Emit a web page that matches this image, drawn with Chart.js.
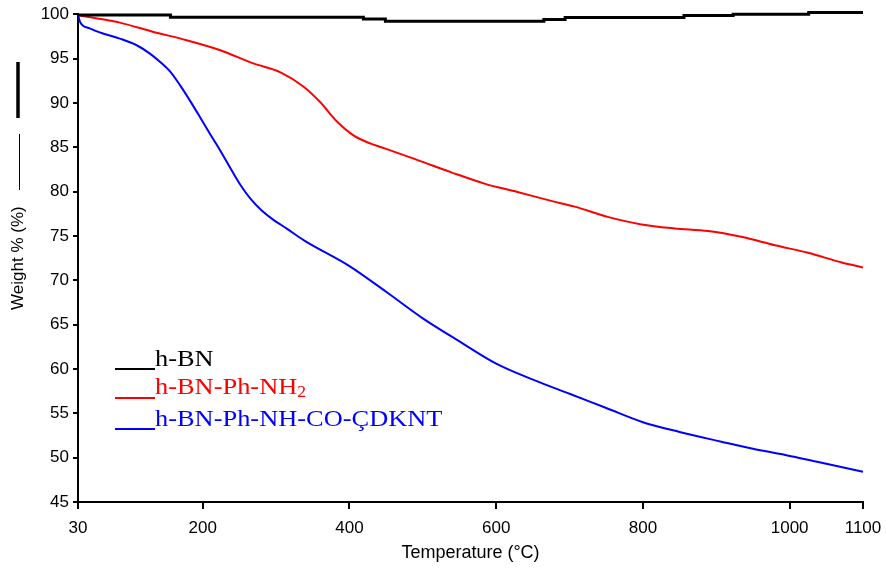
<!DOCTYPE html>
<html>
<head>
<meta charset="utf-8">
<script src="https://cdn.jsdelivr.net/npm/chart.js@4.4.0/dist/chart.umd.min.js"></script>
<style>
  html, body { margin: 0; padding: 0; background: #fff; }
  #wrap { width: 886px; height: 574px; }
</style>
</head>
<body>
<div id="wrap"><canvas id="chart-1" width="886" height="574"></canvas></div>
<script>
const xTicks = [30, 200, 400, 600, 800, 1000, 1100];

// h-BN (flat, stepped trace)
const tempBN = [30, 156, 419, 449, 665, 694, 856, 923, 1026, 1100];
const weightBN = [99.9, 99.65, 99.45, 99.2, 99.4, 99.62, 99.84, 100.0, 100.18, 100.18];

// h-BN-Ph-NH2
const tempNH2 = [30, 49, 87, 133, 178, 224, 269, 306, 338, 360, 383, 406, 429, 447, 493, 538, 584, 629, 675, 707, 752, 798, 843, 889, 934, 980, 1025, 1071, 1100];
const weightNH2 = [99.9, 99.62, 99.05, 98.0, 97.07, 95.94, 94.45, 93.45, 91.8, 90.1, 87.9, 86.3, 85.4, 84.9, 83.55, 82.2, 80.9, 79.95, 78.95, 78.3, 77.15, 76.3, 75.85, 75.55, 74.9, 73.95, 73.1, 72.0, 71.45];

// h-BN-Ph-NH-CO-CDKNT
const tempCDKNT = [30, 33, 46, 65, 87, 110, 128, 142, 156, 169, 183, 197, 210, 224, 238, 251, 265, 280, 295, 315, 338, 400, 450, 500, 550, 600, 650, 700, 750, 800, 850, 907, 950, 994, 1039, 1100];
const weightCDKNT = [99.95, 99.1, 98.4, 97.8, 97.25, 96.5, 95.56, 94.62, 93.5, 92.0, 90.2, 88.3, 86.5, 84.6, 82.6, 80.8, 79.2, 77.9, 76.9, 75.8, 74.5, 71.6, 68.7, 65.7, 63.1, 60.6, 58.8, 57.2, 55.6, 54.0, 52.9, 51.8, 51.0, 50.3, 49.5, 48.4];

const labels = ['h-BN', 'h-BN-Ph-NH\u2082', 'h-BN-Ph-NH-CO-\u00C7DKNT'];

function toPoints(xs, ys) {
    return xs.map((x, i) => ({ x: x, y: ys[i] }));
}

const ctx1 = document.getElementById('chart-1').getContext('2d');

Chart.defaults.font.family = '"Liberation Sans", Arial, sans-serif';
Chart.defaults.color = '#000';

// legend drawn inside the plot plus the two marks at the far left
const innerLegend = {
    id: 'innerLegend',
    afterDraw(chart) {
        const ctx = chart.ctx;
        ctx.save();

        ctx.strokeStyle = '#000';
        ctx.lineWidth = 3.5;
        ctx.beginPath(); ctx.moveTo(18, 62); ctx.lineTo(18, 118); ctx.stroke();
        ctx.lineWidth = 1;
        ctx.beginPath(); ctx.moveTo(19.5, 134); ctx.lineTo(19.5, 190); ctx.stroke();

        const lineYs = [369, 398, 429];
        const textYs = [366, 394, 426];
        chart.data.datasets.forEach((ds, i) => {
            ctx.strokeStyle = ds.borderColor;
            ctx.lineWidth = 2;
            ctx.beginPath(); ctx.moveTo(115, lineYs[i]); ctx.lineTo(155, lineYs[i]); ctx.stroke();

            ctx.save();
            ctx.translate(155, textYs[i]);
            ctx.scale(1.1, 1);
            ctx.fillStyle = ds.borderColor;
            ctx.textBaseline = 'alphabetic';
            ctx.textAlign = 'left';
            const parts = ds.label.split('\u2082');
            ctx.font = '24px "Liberation Serif", "Times New Roman", serif';
            ctx.fillText(parts[0], 0, 0);
            if (parts.length > 1) {
                const w = ctx.measureText(parts[0]).width;
                ctx.font = '16px "Liberation Serif", "Times New Roman", serif';
                ctx.fillText('2', w, 3);
            }
            ctx.restore();
        });
        ctx.restore();
    }
};

var tgaChart = new Chart(ctx1, {
    type: 'line',
    data: {
        datasets: [{
            label: labels[0],
            data: toPoints(tempBN, weightBN),
            borderColor: '#000000',
            borderWidth: 3,
            stepped: true,
            clip: 6
        }, {
            label: labels[1],
            data: toPoints(tempNH2, weightNH2),
            borderColor: '#ff0000',
            borderWidth: 2,
            cubicInterpolationMode: 'monotone'
        }, {
            label: labels[2],
            data: toPoints(tempCDKNT, weightCDKNT),
            borderColor: '#0000ff',
            borderWidth: 2,
            cubicInterpolationMode: 'monotone'
        }]
    },
    options: {
        responsive: false,
        animation: false,
        layout: { padding: { top: 12, right: 23, left: 0, bottom: 0 } },
        elements: { point: { radius: 0 } },
        plugins: {
            legend: { display: false },
            tooltip: { enabled: false }
        },
        scales: {
            x: {
                type: 'linear',
                min: 30,
                max: 1100,
                afterBuildTicks: (scale) => { scale.ticks = xTicks.map(v => ({ value: v })); },
                afterFit: (scale) => { scale.height = 72; scale.paddingRight = 0; },
                border: { color: '#000', width: 2 },
                grid: { drawOnChartArea: false, tickLength: 7, tickColor: '#000', lineWidth: 2 },
                ticks: { autoSkip: false, maxRotation: 0, padding: 9, font: { size: 17 }, callback: (v) => String(v) },
                title: { display: true, text: 'Temperature (\u00B0C)', font: { size: 18 }, padding: { top: 0, bottom: 10 } }
            },
            y: {
                min: 45,
                max: 100,
                afterFit: (scale) => { scale.width = 78; },
                border: { color: '#000', width: 2 },
                grid: { drawOnChartArea: false, tickLength: 5, tickColor: '#000', lineWidth: 2 },
                ticks: { stepSize: 5, padding: 4, font: { size: 17 }, callback: (v) => String(v) },
                title: { display: true, text: 'Weight % (%)', font: { size: 17 }, padding: { top: 8, bottom: 0 } }
            }
        }
    },
    plugins: [innerLegend]
});
</script>
</body>
</html>
